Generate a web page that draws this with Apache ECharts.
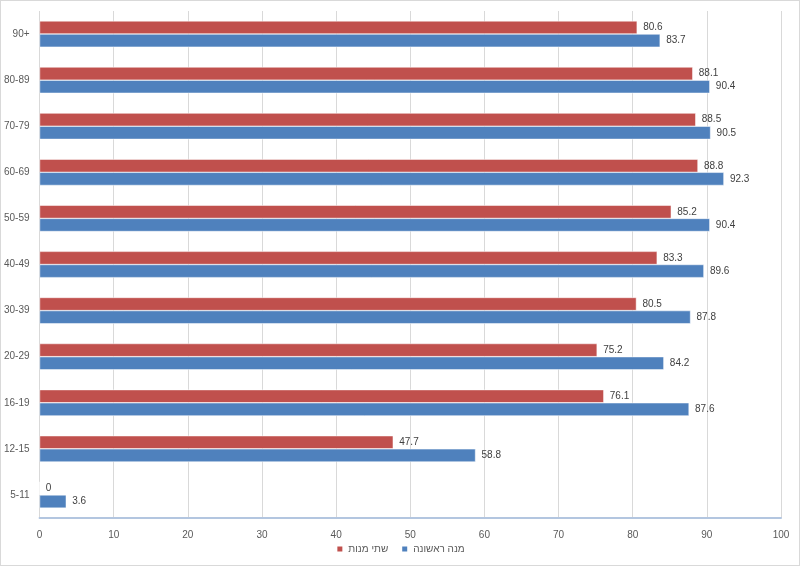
<!DOCTYPE html>
<html>
<head>
<meta charset="utf-8">
<script src="https://cdn.jsdelivr.net/npm/echarts@6/dist/echarts.min.js"></script>
<style>
html,body{margin:0;padding:0;background:#fff;}
#chart{width:798px;height:564px;border:1px solid #d9d9d9;}
</style>
</head>
<body>
<div id="chart"></div>
<script>
var ageGroups = ['5-11','12-15','16-19','20-29','30-39','40-49','50-59','60-69','70-79','80-89','90+'];
var twoDoses = [0, 47.7, 76.1, 75.2, 80.5, 83.3, 85.2, 88.8, 88.5, 88.1, 80.6];
var firstDose = [3.6, 58.8, 87.6, 84.2, 87.8, 89.6, 90.4, 92.3, 90.5, 90.4, 83.7];
var xTicks = [0,10,20,30,40,50,60,70,80,90,100];

var myChart = echarts.init(document.getElementById('chart'));
var labelStyle = {
    show: true,
    position: 'right',
    distance: 6,
    color: '#404040',
    fontSize: 10,
    fontFamily: 'Liberation Sans'
};
var option = {
    animation: false,
    textStyle: { fontFamily: 'Liberation Sans' },
    legend: {
        data: ['שתי מנות', 'מנה ראשונה'],
        bottom: 6,
        left: 'center',
        itemWidth: 7,
        itemHeight: 7,
        itemGap: 12,
        icon: 'rect',
        textStyle: { color: '#595959', fontSize: 10 }
    },
    grid: { left: 37, right: 18, top: 10, bottom: 47 },
    xAxis: {
        type: 'value',
        min: xTicks[0],
        max: xTicks[xTicks.length - 1],
        interval: 10,
        axisLine: { show: true, lineStyle: { color: '#b3c6e0', width: 2 } },
        axisTick: { show: false },
        axisLabel: { color: '#595959', fontSize: 10, margin: 12 },
        splitLine: { lineStyle: { color: '#d9d9d9' } }
    },
    yAxis: {
        type: 'category',
        data: ageGroups,
        axisLine: { show: false },
        axisTick: { show: false },
        axisLabel: { color: '#595959', fontSize: 10, margin: 10 }
    },
    series: [
        {
            name: 'שתי מנות',
            type: 'bar',
            data: twoDoses,
            barCategoryGap: '43%',
            barGap: '0%',
            itemStyle: { color: '#c0504d', borderColor: '#ffffff', borderWidth: 0.5 },
            label: labelStyle
        },
        {
            name: 'מנה ראשונה',
            type: 'bar',
            data: firstDose,
            itemStyle: { color: '#4f81bd', borderColor: '#ffffff', borderWidth: 0.5 },
            label: labelStyle
        }
    ]
};
myChart.setOption(option);
</script>
</body>
</html>
